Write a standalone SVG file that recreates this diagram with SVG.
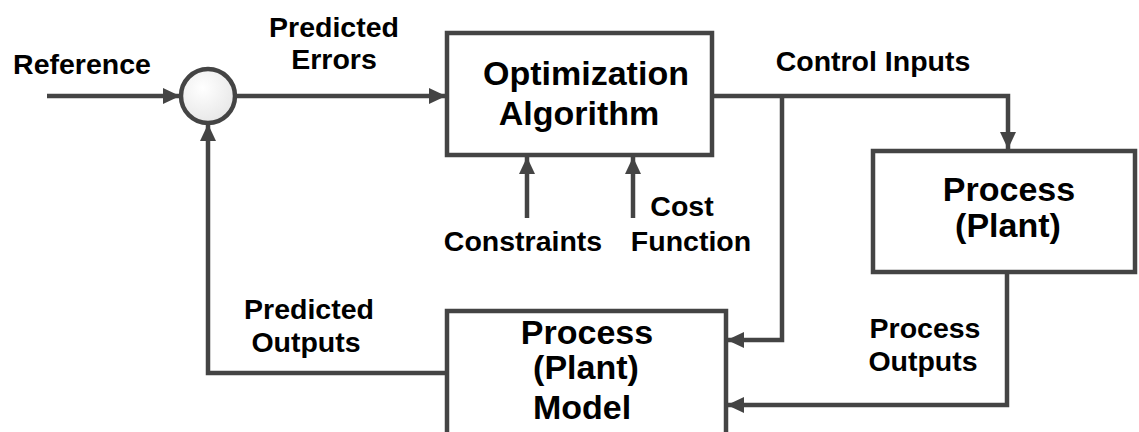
<svg xmlns="http://www.w3.org/2000/svg" width="1139" height="432" viewBox="0 0 1139 432">
  <style>
    .box { fill: #ffffff; stroke: #444444; stroke-width: 4.5; }
    .wire { fill: none; stroke: #444444; stroke-width: 4.5; stroke-linejoin: miter; }
    .lbl { font-family: "Liberation Sans", Arial, sans-serif; font-weight: bold; font-size: 28.5px; fill: #000000; text-anchor: middle; }
    .big { font-family: "Liberation Sans", Arial, sans-serif; font-weight: bold; font-size: 34px; fill: #000000; text-anchor: middle; }
  </style>
  <defs>
    <marker id="arrow" markerUnits="userSpaceOnUse" markerWidth="20" markerHeight="20" viewBox="0 0 20 20" refX="17" refY="10" orient="auto">
      <path d="M0,2 L17,10 L0,18 Z" fill="#444444"/>
    </marker>
    <radialGradient id="sumFill" cx="0.4" cy="0.35" r="0.7">
      <stop offset="0" stop-color="#ffffff"/>
      <stop offset="1" stop-color="#e6e6e6"/>
    </radialGradient>
  </defs>
  <rect width="1139" height="432" fill="#ffffff"/>

  <!-- connectors -->
  <g id="connectors">
    <line class="wire" x1="47" y1="96" x2="180" y2="96" marker-end="url(#arrow)"/>
    <line class="wire" x1="236" y1="96" x2="446" y2="96" marker-end="url(#arrow)"/>
    <polyline class="wire" points="713,96 1008,96 1008,149" marker-end="url(#arrow)"/>
    <polyline class="wire" points="782,96 782,340 727,340" marker-end="url(#arrow)"/>
    <line class="wire" x1="527" y1="218" x2="527" y2="157" marker-end="url(#arrow)"/>
    <line class="wire" x1="633" y1="218" x2="633" y2="157" marker-end="url(#arrow)"/>
    <polyline class="wire" points="1007,273 1007,405 727,405" marker-end="url(#arrow)"/>
    <polyline class="wire" points="446,373 208,373 208,124" marker-end="url(#arrow)"/>
  </g>

  <!-- summing junction -->
  <g id="sum">
    <circle cx="208" cy="96" r="27" fill="url(#sumFill)" stroke="#444444" stroke-width="4.5"/>
  </g>

  <g id="optimizer">
    <rect class="box" x="447" y="33" width="265" height="122"/>
    <text class="big" x="586" y="85">Optimization</text>
    <text class="big" x="579" y="125">Algorithm</text>
  </g>

  <g id="plant">
    <rect class="box" x="873" y="151" width="262" height="121"/>
    <text class="big" x="1009" y="201">Process</text>
    <text class="big" x="1008" y="237">(Plant)</text>
  </g>

  <g id="model">
    <rect class="box" x="447" y="311" width="279" height="140"/>
    <text class="big" x="587" y="344">Process</text>
    <text class="big" x="586" y="379">(Plant)</text>
    <text class="big" x="582" y="419">Model</text>
  </g>

  <!-- signal labels -->
  <g id="labels">
    <text class="lbl" x="82" y="74">Reference</text>
    <text class="lbl" x="334" y="37">Predicted</text>
    <text class="lbl" x="334" y="69">Errors</text>
    <text class="lbl" x="873" y="71">Control Inputs</text>
    <text class="lbl" x="523" y="251">Constraints</text>
    <text class="lbl" x="682" y="216">Cost</text>
    <text class="lbl" x="691" y="251">Function</text>
    <text class="lbl" x="925" y="338">Process</text>
    <text class="lbl" x="923" y="371">Outputs</text>
    <text class="lbl" x="309" y="319">Predicted</text>
    <text class="lbl" x="306" y="352">Outputs</text>
  </g>
</svg>
